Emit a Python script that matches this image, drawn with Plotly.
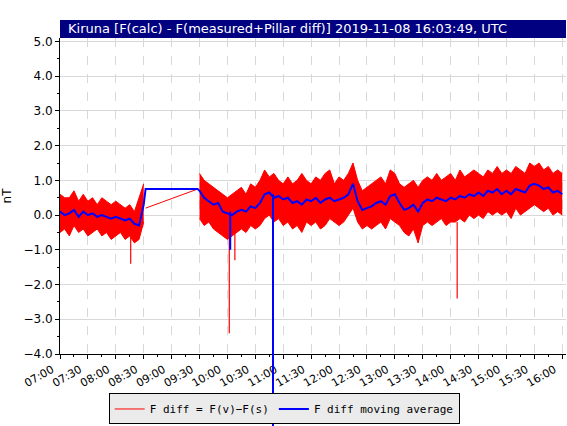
import plotly.graph_objects as go
import pandas as pd

# morning block 07:00-08:30, 5-min slots
am_start, am_n = "2019-11-08 07:00", 19
am_lo = [-0.5,-0.4,-0.6,-0.3,-0.5,-0.4,-0.6,-0.5,-0.4,-0.6,-0.5,-0.7,-0.6,-0.5,-0.7,-0.6,-0.8,-0.7,-0.2]
am_hi = [0.6,0.5,0.5,0.7,0.4,0.6,0.4,0.5,0.3,0.5,0.4,0.3,0.4,0.3,0.2,0.3,0.1,0.5,0.9]
am_avg = [0.1,0.0,0.05,0.15,-0.05,0.1,0.0,0.05,-0.05,0.0,-0.05,-0.1,-0.05,-0.1,-0.15,-0.1,-0.25,-0.3,0.3]

# bridge while no data
bridge_t = ["2019-11-08 08:32", "2019-11-08 09:28"]
bridge_red = [0.2, 0.75]
bridge_avg = [0.75, 0.75]

# afternoon block 09:30-16:00
pm_start, pm_n = "2019-11-08 09:30", 79
pm_lo = [-0.1,-0.3,-0.2,-0.4,-0.5,-0.6,-0.7,-0.6,-0.5,-0.4,-0.5,-0.3,-0.4,-0.3,-0.1,0.0,-0.2,-0.1,
         -0.3,-0.2,-0.4,-0.3,-0.5,-0.2,-0.3,-0.2,-0.4,-0.3,-0.1,-0.2,-0.3,-0.2,0.0,0.2,-0.2,-0.4,
         -0.3,-0.4,-0.3,-0.2,-0.4,-0.1,-0.2,-0.3,-0.5,-0.6,-0.4,-0.8,-0.3,-0.2,-0.3,-0.2,-0.1,-0.3,
         -0.2,-0.2,-0.1,-0.2,0.0,-0.1,0.0,-0.1,0.1,0.0,0.1,0.0,0.1,-0.1,0.2,0.0,0.1,0.2,0.3,0.2,
         0.1,0.2,0.0,0.1,0.0]
pm_hi = [1.2,1.0,0.9,0.8,0.7,0.6,0.5,0.6,0.7,0.8,0.6,0.9,0.8,1.0,1.3,1.1,1.2,1.0,
         0.9,1.1,0.9,1.0,1.2,1.0,0.9,1.1,1.0,1.2,1.3,0.9,1.1,1.0,1.2,1.5,1.0,0.7,
         0.8,0.9,1.0,1.1,0.9,1.3,1.2,0.9,0.8,0.9,1.0,0.8,1.0,1.1,1.0,1.2,1.0,1.1,
         1.2,1.0,1.3,1.1,1.2,1.3,1.2,1.1,1.3,1.2,1.4,1.2,1.3,1.2,1.4,1.3,1.2,1.5,1.4,1.5,
         1.3,1.4,1.2,1.3,1.2]
pm_avg = [0.7,0.5,0.4,0.3,0.35,0.1,0.05,0.0,0.1,0.15,0.1,0.25,0.2,0.35,0.6,0.65,0.5,0.55,
          0.45,0.5,0.35,0.4,0.3,0.45,0.4,0.5,0.35,0.45,0.5,0.4,0.45,0.5,0.6,0.9,0.4,0.15,
          0.2,0.25,0.35,0.4,0.3,0.55,0.6,0.35,0.15,0.2,0.3,0.1,0.35,0.45,0.4,0.5,0.45,0.4,
          0.5,0.45,0.55,0.5,0.6,0.55,0.65,0.55,0.7,0.65,0.75,0.6,0.7,0.6,0.75,0.7,0.65,0.85,0.9,0.85,
          0.75,0.8,0.65,0.7,0.6]

# isolated spikes
red_spike_t = ["2019-11-08 08:16", "2019-11-08 10:02", "2019-11-08 10:08", "2019-11-08 14:07"]
red_spike_base = [-0.5, -0.5, -0.5, -0.2]
red_spike_v = [-1.4, -3.4, -1.3, -2.4]
blue_spike_t = "2019-11-08 10:03"
blue_spike_base = 0.1
blue_spike_v = -1.0
big_spike_t = "2019-11-08 10:49"
big_spike_top = 0.6

RED, BLUE = "#ff0000", "#0000ff"
fig = go.Figure()

def band(start, n, lo, hi):
    t = pd.date_range(start, periods=n, freq="5min")
    fig.add_trace(go.Scatter(x=t, y=hi, mode="lines", line=dict(color=RED, width=1),
                             showlegend=False, hoverinfo="skip"))
    fig.add_trace(go.Scatter(x=t, y=lo, mode="lines", line=dict(color=RED, width=1),
                             fill="tonexty", fillcolor=RED, showlegend=False))

band(am_start, am_n, am_lo, am_hi)
band(pm_start, pm_n, pm_lo, pm_hi)

sx, sy = [], []
for t, b, v in zip(red_spike_t, red_spike_base, red_spike_v):
    sx += [t, t, None]
    sy += [b, v, None]
fig.add_trace(go.Scatter(x=sx, y=sy, mode="lines", line=dict(color=RED, width=1.2), showlegend=False))

fig.add_trace(go.Scatter(x=pd.to_datetime(bridge_t), y=bridge_red, mode="lines",
                         line=dict(color=RED, width=1), name="F diff = F(v)\u2212F(s)"))

blue_x = list(pd.date_range(am_start, periods=am_n, freq="5min")) + list(pd.to_datetime(bridge_t)) + \
         list(pd.date_range(pm_start, periods=pm_n, freq="5min"))
blue_y = am_avg + bridge_avg + pm_avg
fig.add_trace(go.Scatter(x=blue_x, y=blue_y, mode="lines", line=dict(color=BLUE, width=2),
                         name="F diff moving average"))
fig.add_trace(go.Scatter(x=[blue_spike_t, blue_spike_t], y=[blue_spike_base, blue_spike_v], mode="lines",
                         line=dict(color=BLUE, width=2), showlegend=False))

y_rng = [-4, 5.1]
fig.update_layout(
    width=567, height=426, margin=dict(l=60, r=1, t=38, b=69),
    plot_bgcolor="white", paper_bgcolor="white",
    font=dict(family="DejaVu Sans", color="black", size=12),
    showlegend=True,
    legend=dict(orientation="h", x=0.443, y=-0.174, xanchor="center", yanchor="middle",
                traceorder="normal",
                bgcolor="#ebebeb", bordercolor="black", borderwidth=1,
                font=dict(family="DejaVu Sans Mono", size=11)),
    xaxis=dict(range=["2019-11-08 07:00", "2019-11-08 16:04"], dtick=30*60*1000, tickformat="%H:%M",
               tickangle=-30, showline=True, linecolor="black", ticks="outside", tickcolor="black",
               ticklen=4, showgrid=True, gridcolor="#d8d8d8", griddash="dash", zeroline=False,
               automargin=False, tickfont=dict(size=11), ticklabelshift=-8,
               minor=dict(ticks="outside", ticklen=2, tickcolor="black", dtick=15*60*1000)),
    yaxis=dict(range=y_rng, dtick=1, tickformat=".1f", showline=True, linecolor="black",
               ticks="outside", tickcolor="black", ticklen=4, showgrid=True, gridcolor="#d8d8d8",
               zeroline=False, automargin=False, title=dict(text="nT", font=dict(size=12), standoff=22),
               minor=dict(ticks="outside", ticklen=2, tickcolor="black", dtick=0.5)),
    shapes=[
        dict(type="rect", xref="paper", yref="paper", x0=0.0, x1=1, y0=1.0, y1=1.057,
             fillcolor="#000080", line=dict(width=0), layer="above"),
        dict(type="line", xref="x", yref="paper", x0=big_spike_t, x1=big_spike_t,
             y0=(big_spike_top - y_rng[0]) / (y_rng[1] - y_rng[0]), y1=-0.3,
             line=dict(color=BLUE, width=2)),
    ],
    annotations=[dict(text="Kiruna [F(calc) - F(measured+Pillar diff)] 2019-11-08 16:03:49, UTC",
                      xref="paper", yref="paper", x=0.012, y=1.029, xanchor="left", yanchor="middle",
                      showarrow=False, font=dict(color="white", size=13))],
)
fig.write_html("out.html", config={"displayModeBar": False},
               post_script="document.body.style.margin='0';document.body.style.overflow='hidden';")
